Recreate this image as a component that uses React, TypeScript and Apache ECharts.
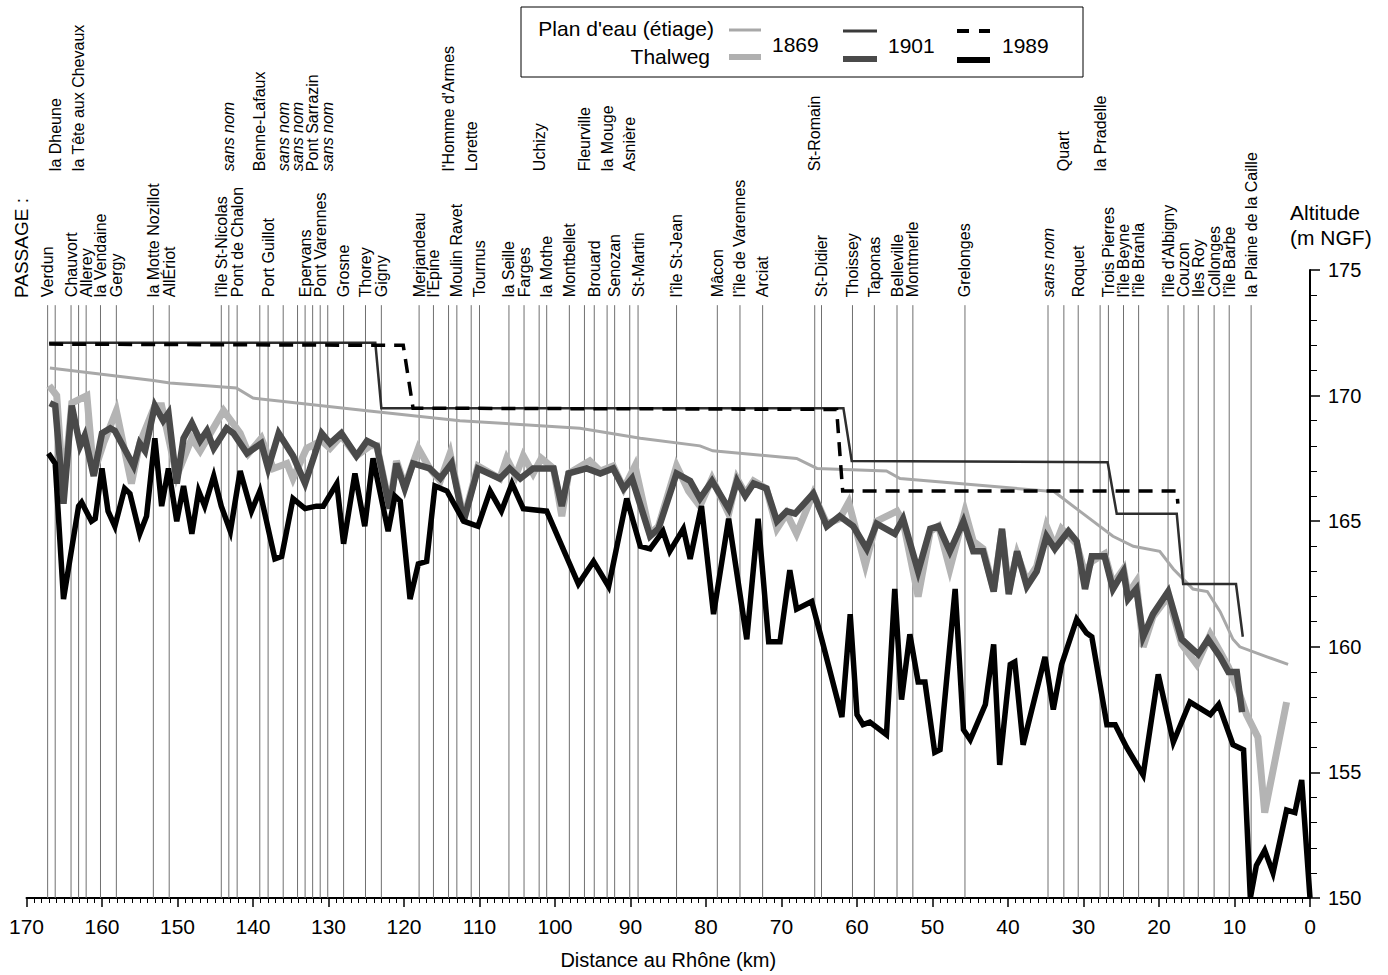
import React, { useEffect, useRef } from "react";
import * as echarts from "echarts";

const FONT = '"Liberation Sans", Arial, Helvetica, sans-serif';

// Passages (name, km, label row: 0 = lower row, 1 = upper row)
const passageNames = [
  "Verdun", "la Dheune", "Chauvort", "la Tête aux Chevaux", "Allerey", "la Vendaine", "Gergy",
  "la Motte Nozillot", "AllÉriot", "l'île St-Nicolas", "sans nom", "Pont de Chalon",
  "Benne-Lafaux", "Port Guillot", "sans nom", "sans nom", "Epervans", "Pont Sarrazin",
  "Pont Varennes", "sans nom", "Grosne", "Thorey", "Gigny", "Merjandeau", "l'Epine",
  "l'Homme d'Armes", "Moulin Ravet", "Lorette", "Tournus", "la Seille", "Farges", "Uchizy",
  "la Mothe", "Montbellet", "Fleurville", "Brouard", "la Mouge", "Senozan", "Asnière",
  "St-Martin", "l'île St-Jean", "Mâcon", "l'île de Varennes", "Arciat", "St-Romain",
  "St-Didier", "Thoissey", "Taponas", "Belleville", "Montmerle", "Grelonges", "sans nom",
  "Quart", "Roquet", "la Pradelle", "Trois Pierres", "l'île Beyne", "l'île Branla",
  "l'île d'Albigny", "Couzon", "Iles Roy", "Collonges", "l'île Barbe", "la Plaine de la Caille",
];
const passageKm = [
  167.2, 166.2, 164.1, 163.1, 162.1, 160.2, 158.1,
  153.2, 151.1, 144.2, 143.2, 142.1,
  139.1, 138.0, 136.0, 134.1, 133.1, 132.1,
  131.1, 130.1, 128.0, 125.1, 123.0, 118.0, 116.1,
  114.1, 113.0, 111.1, 110.0, 106.1, 104.1, 102.1,
  101.1, 98.1, 96.1, 94.8, 93.1, 92.1, 90.1,
  89.0, 83.9, 78.5, 75.5, 72.5, 65.6,
  64.7, 60.6, 57.7, 54.7, 52.6, 45.7, 34.7,
  32.6, 30.7, 27.8, 26.7, 24.7, 22.7,
  18.8, 16.7, 14.8, 12.7, 10.7, 7.8,
];
const passageRow = [
  0, 1, 0, 1, 0, 0, 0,
  0, 0, 0, 1, 0,
  1, 0, 1, 1, 0, 1,
  0, 1, 0, 0, 0, 0, 0,
  1, 0, 1, 0, 0, 0, 1,
  0, 0, 1, 0, 1, 0, 1,
  0, 0, 0, 0, 0, 1,
  0, 0, 0, 0, 0, 0, 0,
  1, 0, 1, 0, 0, 0,
  0, 0, 0, 0, 0, 0,
];
const passageTop = 173.6;

// Plan d'eau (étiage) [km, m NGF]
const plan1869 = [
  [166.9, 171.1], [153.2, 170.6], [151.0, 170.5], [142.2, 170.3], [140.0, 169.9], [124.9, 169.4],
  [112.6, 169.0], [96.7, 168.7], [88.7, 168.3], [80.8, 168.0], [79.1, 167.8], [68.0, 167.5],
  [65.3, 167.1], [56.1, 167.0], [54.3, 166.7], [34.9, 166.2], [34.0, 166.2], [30.5, 165.4],
  [26.1, 164.4], [23.4, 164.0], [19.9, 163.8], [18.1, 163.1], [15.5, 162.3], [13.6, 162.2],
  [11.9, 161.4], [10.2, 160.3], [9.3, 160.0], [5.7, 159.6], [2.9, 159.3],
];
const plan1901 = [
  [167.0, 172.1], [123.8, 172.1], [123.0, 169.5], [61.8, 169.5], [60.7, 167.4], [26.8, 167.35],
  [25.6, 165.3], [17.65, 165.3], [16.8, 162.5], [9.8, 162.5], [8.9, 160.4],
];
const plan1989 = [
  [167.0, 172.05], [120.1, 172.0], [118.8, 169.5], [62.7, 169.45], [61.9, 166.2], [17.65, 166.2],
  [17.5, 165.7],
];

// Thalweg [km, m NGF]
const thalweg1869 = [
  [167.0, 170.4], [166.0, 170.0], [165.1, 166.2], [164.0, 169.7], [162.0, 170.0], [161.1, 166.9],
  [159.8, 168.1], [158.1, 169.4], [156.1, 166.5], [155.0, 168.1], [153.0, 169.6], [152.1, 169.6],
  [150.1, 166.8], [148.1, 168.3], [147.0, 167.8], [143.9, 169.4], [141.7, 168.5], [140.6, 167.7],
  [138.9, 168.3], [137.3, 167.1], [135.5, 167.3], [134.7, 166.7], [132.9, 167.9], [130.9, 168.2],
  [129.8, 167.9], [128.3, 168.4], [126.3, 167.6], [124.5, 168.0], [123.6, 168.0], [121.9, 165.6],
  [121.0, 167.4], [119.9, 166.4], [118.1, 167.9], [116.6, 167.1], [115.2, 166.6], [113.9, 167.7],
  [112.1, 165.1], [110.2, 167.2], [107.3, 166.7], [106.4, 167.5], [105.2, 166.8], [104.2, 167.6],
  [102.9, 166.9], [101.8, 167.5], [100.2, 167.1], [99.1, 165.2], [98.2, 166.9], [95.4, 167.4],
  [94.0, 167.0], [92.3, 167.2], [90.9, 166.3], [89.4, 167.2], [87.4, 164.5], [86.3, 164.8],
  [83.9, 167.2], [82.3, 166.2], [80.8, 165.6], [79.2, 166.7], [77.0, 165.3], [75.9, 166.7],
  [74.8, 166.1], [73.7, 166.6], [72.0, 166.3], [70.6, 164.7], [69.3, 165.3], [68.0, 164.5],
  [65.8, 166.1], [64.0, 164.9], [62.3, 165.1], [61.1, 165.75], [58.9, 163.25], [57.4, 165.0],
  [54.7, 165.4], [53.9, 165.0], [51.9, 162.0], [50.3, 164.6], [49.2, 164.8], [47.7, 163.1],
  [45.7, 165.4], [44.6, 164.2], [43.3, 163.9], [41.9, 162.3], [40.8, 164.6], [39.9, 162.3],
  [38.8, 163.7], [37.5, 162.6], [36.2, 163.2], [34.9, 164.8], [33.8, 164.0], [32.9, 164.7],
  [30.9, 164.1], [29.8, 162.9], [28.9, 163.4], [27.2, 163.7], [26.1, 162.5], [24.7, 163.1],
  [24.1, 162.1], [23.0, 162.6], [22.1, 160.0], [20.8, 161.2], [18.8, 162.0], [17.0, 160.1],
  [15.0, 159.3], [13.2, 160.5], [11.9, 159.8], [10.8, 159.2], [9.3, 158.1], [8.4, 157.3],
  [6.9, 156.4], [6.0, 153.4], [3.1, 157.8],
];
const thalweg1901 = [
  [166.9, 169.7], [166.2, 169.6], [165.1, 165.7], [164.0, 169.6], [162.9, 168.0], [162.3, 168.4],
  [161.1, 166.8], [160.0, 168.5], [158.9, 168.7], [158.3, 168.6], [155.8, 167.2], [155.0, 168.1],
  [154.3, 167.8], [153.0, 169.6], [151.9, 169.0], [151.2, 169.3], [150.1, 166.5], [149.2, 168.3],
  [148.1, 168.9], [147.0, 168.2], [146.1, 168.6], [145.2, 167.9], [143.5, 168.7], [142.6, 168.5],
  [140.8, 167.7], [138.9, 168.1], [138.0, 167.1], [136.6, 168.5], [134.7, 167.6], [133.1, 166.5],
  [130.9, 168.5], [129.8, 168.1], [128.3, 168.5], [126.3, 167.6], [124.9, 168.2], [123.6, 168.0],
  [121.9, 165.5], [121.0, 167.3], [119.9, 166.3], [118.8, 167.3], [116.6, 167.1], [115.2, 166.7],
  [113.7, 167.3], [112.1, 165.0], [110.2, 167.1], [107.3, 166.7], [106.0, 167.1], [104.6, 166.7],
  [102.9, 167.1], [101.3, 167.1], [100.2, 167.1], [99.1, 165.6], [98.2, 166.9], [95.8, 167.1],
  [94.0, 166.9], [92.3, 167.1], [90.9, 166.3], [89.8, 166.7], [87.4, 164.4], [86.3, 164.7],
  [83.9, 166.9], [82.1, 166.6], [80.8, 165.9], [79.2, 166.6], [77.0, 165.5], [75.9, 166.6],
  [74.8, 166.0], [73.7, 166.5], [72.0, 166.3], [70.6, 165.0], [69.3, 165.4], [68.2, 165.3],
  [65.8, 166.1], [64.0, 164.8], [62.3, 165.2], [60.5, 164.8], [58.7, 163.9], [57.4, 164.9],
  [55.0, 164.5], [53.9, 165.1], [51.9, 163.0], [50.3, 164.7], [49.2, 164.8], [47.7, 163.8],
  [45.9, 165.0], [44.6, 163.8], [43.3, 163.8], [41.9, 162.2], [40.8, 164.7], [39.9, 162.1],
  [38.8, 163.8], [37.5, 162.4], [36.2, 163.0], [34.9, 164.4], [33.8, 163.9], [32.0, 164.6],
  [30.9, 164.2], [29.8, 162.3], [28.9, 163.6], [27.2, 163.6], [26.1, 162.3], [24.7, 163.0],
  [24.1, 161.9], [23.0, 162.3], [22.1, 160.4], [20.8, 161.3], [18.8, 162.2], [17.0, 160.3],
  [14.8, 159.7], [13.5, 160.3], [11.9, 159.6], [10.8, 159.0], [9.7, 159.0], [9.0, 157.4],
];
const thalweg1989 = [
  [167.1, 167.7], [166.2, 167.3], [165.1, 161.9], [163.1, 165.6], [162.7, 165.75], [161.4, 165.0],
  [160.9, 165.1], [160.0, 167.1], [159.2, 165.4], [158.3, 164.8], [157.0, 166.3], [156.3, 166.1],
  [155.0, 164.5], [154.1, 165.2], [153.0, 168.3], [152.1, 165.6], [151.2, 167.1], [150.1, 165.0],
  [149.2, 166.4], [148.1, 164.5], [147.2, 166.2], [146.4, 165.6], [145.2, 166.8], [144.2, 165.6],
  [143.0, 164.6], [141.7, 167.0], [140.2, 165.4], [139.1, 166.2], [137.1, 163.5], [136.2, 163.6],
  [134.7, 165.9], [133.1, 165.5], [131.6, 165.6], [130.7, 165.6], [128.9, 166.5], [128.0, 164.1],
  [126.5, 166.9], [125.2, 164.8], [124.1, 167.5], [122.1, 164.6], [121.2, 166.0], [120.5, 165.8],
  [119.2, 161.9], [118.1, 163.3], [117.0, 163.4], [115.9, 166.4], [114.3, 166.2], [112.1, 165.0],
  [110.2, 164.8], [108.6, 166.2], [107.1, 165.4], [105.7, 166.5], [104.2, 165.5], [101.1, 165.4],
  [96.9, 162.5], [94.9, 163.4], [92.9, 162.4], [90.5, 165.9], [88.7, 164.0], [87.4, 163.9],
  [85.7, 164.6], [84.8, 163.8], [83.0, 164.7], [82.1, 163.5], [80.6, 165.6], [79.0, 161.3],
  [77.0, 165.1], [74.6, 160.3], [73.1, 165.1], [71.7, 160.2], [70.2, 160.2], [68.9, 163.05],
  [68.0, 161.5], [66.0, 161.8], [64.5, 160.1], [62.0, 157.2], [60.9, 161.3], [60.0, 157.3],
  [59.2, 156.9], [58.3, 157.0], [56.1, 156.5], [55.0, 162.3], [54.1, 157.9], [53.0, 160.5],
  [51.9, 158.6], [51.0, 158.6], [49.7, 155.8], [49.0, 155.9], [47.0, 162.3], [45.9, 156.7],
  [45.0, 156.3], [43.0, 157.7], [41.9, 160.1], [41.1, 155.3], [39.7, 159.3], [39.1, 159.4],
  [38.0, 156.1], [35.1, 159.6], [34.0, 157.5], [32.9, 159.3], [30.9, 161.1], [29.6, 160.55],
  [28.9, 160.4], [26.9, 156.9], [25.8, 156.9], [24.3, 156.0], [22.1, 154.9], [20.1, 158.9],
  [18.1, 156.2], [15.9, 157.8], [13.2, 157.3], [12.1, 157.7], [10.2, 156.1], [8.8, 155.9],
  [7.9, 150.0], [7.1, 151.3], [6.0, 151.9], [4.9, 151.0], [3.1, 153.5], [2.0, 153.4],
  [1.1, 154.7], [0.0, 150.0],
];

const legendYears = ["1869", "1901", "1989"];

export default function App() {
  const ref = useRef<HTMLDivElement>(null);

  useEffect(() => {
    if (!ref.current) return;
    const chart = echarts.init(ref.current, undefined, { renderer: "svg" });

    const lineSeries = (name: string, data: number[][], color: string, width: number, z: number, type: any = "solid") => ({
      name,
      type: "line",
      data,
      showSymbol: false,
      symbol: "none",
      z,
      clip: false,
      lineStyle: { color, width, type, join: "miter", cap: "butt" },
    });

    const option: any = {
      animation: false,
      backgroundColor: "#fff",
      textStyle: { fontFamily: FONT },
      grid: { left: 26.5, right: 78, top: 270, bottom: 73 },
      xAxis: {
        type: "value",
        min: 0,
        max: 170,
        interval: 10,
        inverse: true,
        position: "bottom",
        splitLine: { show: false },
        axisLine: { show: true, lineStyle: { color: "#000", width: 2 } },
        axisTick: { show: true, length: 9, lineStyle: { color: "#000", width: 1.5 } },
        minorTick: { show: true, splitNumber: 10, length: 5, lineStyle: { color: "#000", width: 1 } },
        axisLabel: { color: "#000", fontSize: 21, margin: 18, fontFamily: FONT },
        name: "Distance au Rhône (km)",
        nameLocation: "middle",
        nameGap: 52,
        nameTextStyle: { color: "#000", fontSize: 20, fontFamily: FONT },
      },
      yAxis: {
        type: "value",
        min: 150,
        max: 175,
        interval: 5,
        position: "right",
        splitLine: { show: false },
        axisLine: { show: true, lineStyle: { color: "#000", width: 2 } },
        axisTick: { show: true, length: 10, lineStyle: { color: "#000", width: 1.5 } },
        minorTick: { show: true, splitNumber: 5, length: 7, lineStyle: { color: "#000", width: 1 } },
        axisLabel: { color: "#000", fontSize: 20, margin: 18, fontFamily: FONT },
      },
      graphic: [
        {
          type: "text",
          x: 21,
          y: 298,
          rotation: Math.PI / 2,
          style: { text: "PASSAGE :", fill: "#000", font: `19px ${FONT}`, align: "left", verticalAlign: "middle" },
        },
        {
          type: "text",
          x: 1290,
          y: 212,
          style: { text: "Altitude", fill: "#000", font: `21px ${FONT}`, align: "left", verticalAlign: "middle" },
        },
        {
          type: "text",
          x: 1290,
          y: 237,
          style: { text: "(m NGF)", fill: "#000", font: `21px ${FONT}`, align: "left", verticalAlign: "middle" },
        },
        {
          type: "rect",
          shape: { x: 521, y: 7, width: 562, height: 70 },
          style: { fill: "#fff", stroke: "#000", lineWidth: 1 },
          z: 10,
        },
        {
          type: "text",
          x: 714,
          y: 28,
          z: 11,
          style: { text: "Plan d'eau (étiage)", fill: "#000", font: `21px ${FONT}`, align: "right", verticalAlign: "middle" },
        },
        {
          type: "text",
          x: 710,
          y: 56,
          z: 11,
          style: { text: "Thalweg", fill: "#000", font: `21px ${FONT}`, align: "right", verticalAlign: "middle" },
        },
        { type: "line", z: 11, shape: { x1: 729, y1: 30, x2: 761, y2: 30 }, style: { stroke: "#a8a8a8", lineWidth: 3 } },
        { type: "line", z: 11, shape: { x1: 729, y1: 57, x2: 761, y2: 57 }, style: { stroke: "#b0b0b0", lineWidth: 6 } },
        { type: "line", z: 11, shape: { x1: 843, y1: 31, x2: 877, y2: 31 }, style: { stroke: "#3a3a3a", lineWidth: 3 } },
        { type: "line", z: 11, shape: { x1: 843, y1: 59, x2: 877, y2: 59 }, style: { stroke: "#4a4a4a", lineWidth: 6 } },
        { type: "line", z: 11, shape: { x1: 957, y1: 31, x2: 969, y2: 31 }, style: { stroke: "#000", lineWidth: 4 } },
        { type: "line", z: 11, shape: { x1: 979, y1: 31, x2: 990, y2: 31 }, style: { stroke: "#000", lineWidth: 4 } },
        { type: "line", z: 11, shape: { x1: 957, y1: 60, x2: 990, y2: 60 }, style: { stroke: "#000", lineWidth: 6 } },
        {
          type: "text",
          x: 772,
          y: 44,
          z: 11,
          style: { text: legendYears[0], fill: "#000", font: `21px ${FONT}`, align: "left", verticalAlign: "middle" },
        },
        {
          type: "text",
          x: 888,
          y: 45,
          z: 11,
          style: { text: legendYears[1], fill: "#000", font: `21px ${FONT}`, align: "left", verticalAlign: "middle" },
        },
        {
          type: "text",
          x: 1002,
          y: 45,
          z: 11,
          style: { text: legendYears[2], fill: "#000", font: `21px ${FONT}`, align: "left", verticalAlign: "middle" },
        },
      ],
      series: [
        {
          name: "passages",
          type: "custom",
          clip: false,
          z: 1,
          data: passageKm.map((k, i) => [k, passageRow[i]]),
          renderItem: (params: any, api: any) => {
            const km = api.value(0);
            const row = api.value(1);
            const name = passageNames[params.dataIndex];
            const p0 = api.coord([km, 150]);
            const p1 = api.coord([km, passageTop]);
            const baseY = row === 1 ? p1[1] - 134 : p1[1] - 8;
            const italic = name === "sans nom" ? "italic " : "";
            return {
              type: "group",
              children: [
                {
                  type: "line",
                  shape: { x1: p0[0], y1: p0[1], x2: p1[0], y2: p1[1] },
                  style: { stroke: "#707070", lineWidth: 1 },
                },
                {
                  type: "text",
                  x: p0[0],
                  y: baseY,
                  rotation: Math.PI / 2,
                  style: {
                    text: name,
                    fill: "#000",
                    font: `${italic}16px ${FONT}`,
                    align: "left",
                    verticalAlign: "middle",
                  },
                },
              ],
            };
          },
        },
        lineSeries("Thalweg 1869", thalweg1869, "#b4b4b4", 7, 2),
        lineSeries("Thalweg 1901", thalweg1901, "#4a4a4a", 6.5, 3),
        lineSeries("Thalweg 1989", thalweg1989, "#000000", 5.5, 4),
        lineSeries("Plan d'eau 1869", plan1869, "#a8a8a8", 3, 5),
        lineSeries("Plan d'eau 1901", plan1901, "#2e2e2e", 2.5, 6),
        lineSeries("Plan d'eau 1989", plan1989, "#000000", 3.5, 7, [14, 9]),
      ],
    };

    chart.setOption(option);
    return () => chart.dispose();
  }, []);

  return (
    <div
      ref={ref}
      style={{ position: "absolute", left: 0, top: 0, width: 1388, height: 975, background: "#fff" }}
    />
  );
}
